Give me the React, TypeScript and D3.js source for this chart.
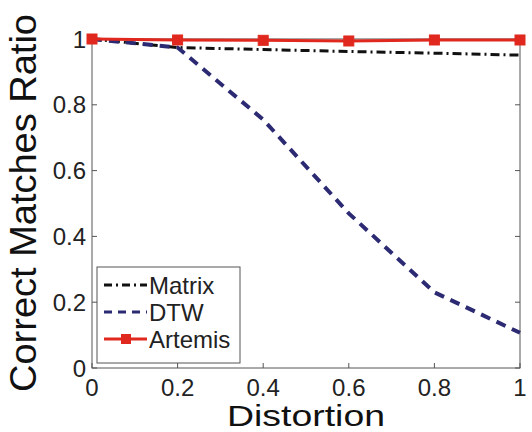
import React from "react";
import * as d3 from "d3";

const distortion = [0, 0.2, 0.4, 0.6, 0.8, 1];
const matrixValues = [1, 0.974, 0.968, 0.962, 0.957, 0.951];
const dtwValues = [1, 0.974, 0.755, 0.47, 0.23, 0.107];
const artemisValues = [1, 0.997, 0.996, 0.994, 0.997, 0.997];
const xTicks = [0, 0.2, 0.4, 0.6, 0.8, 1];
const yTicks = [0, 0.2, 0.4, 0.6, 0.8, 1];
const seriesNames = ["Matrix", "DTW", "Artemis"];

const W = 532;
const H = 432;
const left = 92;
const right = 520;
const top = 39;
const bottom = 368;

export default function App() {
  const x = d3.scaleLinear().domain([0, 1]).range([left, right]);
  const y = d3.scaleLinear().domain([0, 1]).range([bottom, top]);
  const line = d3
    .line<number>()
    .x((_, i) => x(distortion[i]))
    .y((d) => y(d));
  const font = "Arial, 'Liberation Sans', Helvetica, sans-serif";
  const red = "#e0281e";
  const navy = "#2b2a72";
  const legendX = 97;
  const legendY = 267;
  const rowY = [285, 312, 339];
  return (
    <svg
      width={W}
      height={H}
      style={{ position: "absolute", left: 0, top: 0, background: "#fff" }}
      fontFamily={font}
    >
      <rect x={0} y={0} width={W} height={H} fill="#fff" />
      {/* axes box */}
      <rect
        x={left}
        y={top}
        width={right - left}
        height={bottom - top}
        fill="none"
        stroke="#555"
        strokeWidth={1}
      />
      {/* ticks */}
      {xTicks.map((t) => (
        <g key={"xt" + t}>
          <line x1={x(t)} x2={x(t)} y1={bottom} y2={bottom - 5} stroke="#555" />
          <line x1={x(t)} x2={x(t)} y1={top} y2={top + 5} stroke="#555" />
          <text
            x={x(t)}
            y={396}
            fontSize={24}
            textAnchor="middle"
            fill="#222"
          >
            {String(t)}
          </text>
        </g>
      ))}
      {yTicks.map((t) => (
        <g key={"yt" + t}>
          <line x1={left} x2={left + 5} y1={y(t)} y2={y(t)} stroke="#555" />
          <line x1={right} x2={right - 5} y1={y(t)} y2={y(t)} stroke="#555" />
          <text
            x={86}
            y={y(t) + 8.5}
            fontSize={24}
            textAnchor="end"
            fill="#222"
          >
            {String(t)}
          </text>
        </g>
      ))}
      {/* series */}
      <path
        d={line(matrixValues) || ""}
        fill="none"
        stroke="#111"
        strokeWidth={3}
        strokeDasharray="9 4 2 4"
      />
      <path
        d={line(dtwValues) || ""}
        fill="none"
        stroke={navy}
        strokeWidth={4}
        strokeDasharray="10 7"
      />
      <path
        d={line(artemisValues) || ""}
        fill="none"
        stroke={red}
        strokeWidth={3}
      />
      {artemisValues.map((v, i) => (
        <rect
          key={"m" + i}
          x={x(distortion[i]) - 5}
          y={y(v) - 5}
          width={10}
          height={10}
          fill={red}
          stroke={red}
        />
      ))}
      {/* legend */}
      <rect
        x={legendX}
        y={legendY}
        width={143}
        height={96}
        fill="#fff"
        stroke="#555"
        strokeWidth={1}
      />
      <line
        x1={104}
        x2={147}
        y1={rowY[0]}
        y2={rowY[0]}
        stroke="#111"
        strokeWidth={3}
        strokeDasharray="8 4 2 4"
      />
      <line
        x1={104}
        x2={147}
        y1={rowY[1]}
        y2={rowY[1]}
        stroke={navy}
        strokeWidth={3}
        strokeDasharray="8 6"
      />
      <line
        x1={104}
        x2={147}
        y1={rowY[2]}
        y2={rowY[2]}
        stroke={red}
        strokeWidth={3}
      />
      <rect x={121} y={rowY[2] - 5} width={10} height={10} fill={red} />
      {seriesNames.map((s, i) => (
        <text
          key={s}
          x={149}
          y={rowY[i] + 8.5}
          fontSize={24}
          fill="#222"
        >
          {s}
        </text>
      ))}
      {/* axis labels */}
      <text
        x={(left + right) / 2}
        y={425.5}
        fontSize={29}
        textLength={158}
        lengthAdjust="spacingAndGlyphs"
        textAnchor="middle"
        fill="#111"
      >
        Distortion
      </text>
      <text
        transform="translate(36,203) rotate(-90)"
        fontSize={36}
        textLength={378}
        lengthAdjust="spacingAndGlyphs"
        textAnchor="middle"
        fill="#111"
      >
        Correct Matches Ratio
      </text>
    </svg>
  );
}
